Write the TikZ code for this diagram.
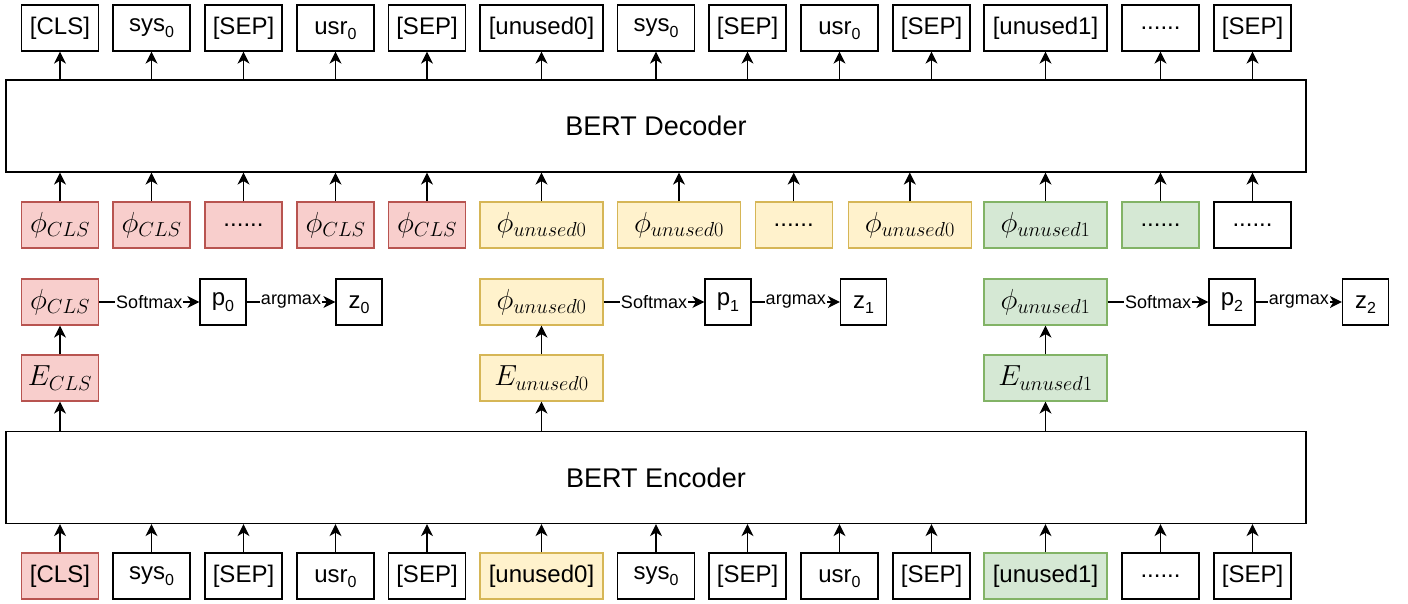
\RequirePackage{fix-cm}
\documentclass[tikz,border=0pt]{standalone}
\usepackage{fontspec}
\setmainfont{Liberation Sans}
\usetikzlibrary{arrows.meta}
\definecolor{redf}{HTML}{F8CECC}
\definecolor{redd}{HTML}{B85450}
\definecolor{yelf}{HTML}{FFF2CC}
\definecolor{yeld}{HTML}{D6B656}
\definecolor{grnf}{HTML}{D5E8D4}
\definecolor{grnd}{HTML}{82B366}
\newcommand{\lowsub}[1]{\raisebox{-5.5pt}[0pt][0pt]{\fontsize{16}{18}\selectfont #1}}
\begin{document}
\begin{tikzpicture}[x=1pt,y=-1pt,
  box/.style={draw=black, line width=1.2pt, fill=white, minimum height=46pt, minimum width=77pt, inner sep=0pt, font=\fontsize{24}{28}\selectfont},
  wide/.style={minimum width=123pt},
  sq/.style={minimum width=46pt},
  mth/.style={font=\fontsize{29}{34}\selectfont},
  redb/.style={fill=redf, draw=redd},
  yelb/.style={fill=yelf, draw=yeld},
  grnb/.style={fill=grnf, draw=grnd},
  big/.style={draw=black, line width=1.2pt, fill=white, minimum width=1300pt, minimum height=92pt, inner sep=0pt, font=\fontsize{27}{32}\selectfont},
  arr/.style={-{Stealth[length=12pt,width=12pt,inset=3.5pt]}, line width=1.4pt},
  lbl/.style={fill=white, inner sep=1pt, font=\fontsize{18}{21}\selectfont}
]
\useasboundingbox (0,0) rectangle (1408,603);

% decoder and encoder
\node[big] (dec) at (656,126) {BERT Decoder};
\node[big] (enc) at (656,477.5) {BERT Encoder};

% top output row
\node[box] (t1) at (60,28) {[CLS]};
\node[box] (t2) at (151.5,28) {sys\lowsub{0}};
\node[box] (t3) at (243.5,28) {[SEP]};
\node[box] (t4) at (335.5,28) {usr\lowsub{0}};
\node[box] (t5) at (427,28) {[SEP]};
\node[box,wide] (t6) at (541.5,28) {[unused0]};
\node[box] (t7) at (656,28) {sys\lowsub{0}};
\node[box] (t8) at (747.5,28) {[SEP]};
\node[box] (t9) at (839.5,28) {usr\lowsub{0}};
\node[box] (t10) at (931.5,28) {[SEP]};
\node[box,wide] (t11) at (1045.5,28) {[unused1]};
\node[box] (t12) at (1160.5,28) {......};
\node[box] (t13) at (1252.5,28) {[SEP]};

\foreach \i in {1,...,13} {
  \draw[arr] (t\i.south |- dec.north) -- (t\i.south);
}

% phi row (decoder inputs)
\node[box,redb,mth] (f1) at (60,225) {$\phi_{CLS}$};
\node[box,redb,mth] (f2) at (151.5,225) {$\phi_{CLS}$};
\node[box,redb] (f3) at (243.5,225) {......};
\node[box,redb,mth] (f4) at (335.5,225) {$\phi_{CLS}$};
\node[box,redb,mth] (f5) at (427,225) {$\phi_{CLS}$};
\node[box,yelb,mth,wide] (f6) at (541.5,225) {$\phi_{unused0}$};
\node[box,yelb,mth,wide] (f7) at (679,225) {$\phi_{unused0}$};
\node[box,yelb] (f8) at (793.7,225) {......};
\node[box,yelb,mth,wide] (f9) at (909.8,225) {$\phi_{unused0}$};
\node[box,grnb,mth,wide] (f10) at (1045.5,225) {$\phi_{unused1}$};
\node[box,grnb] (f11) at (1160.5,225) {......};
\node[box] (f12) at (1252.5,225) {......};

\foreach \i in {1,...,12} {
  \draw[arr] (f\i.north) -- (f\i.north |- dec.south);
}

% middle row
\node[box,redb,mth] (c0) at (60,302) {$\phi_{CLS}$};
\node[box,sq] (p0) at (223,302) {p\lowsub{0}};
\node[box,sq] (z0) at (359,302) {z\lowsub{0}};
\node[box,redb,mth] (e0) at (60,378) {$E_{CLS}$};

\node[box,yelb,mth,wide] (c1) at (541.5,302) {$\phi_{unused0}$};
\node[box,sq] (p1) at (728,302) {p\lowsub{1}};
\node[box,sq] (z1) at (863.5,302) {z\lowsub{1}};
\node[box,yelb,mth,wide] (e1) at (541.5,378) {$E_{unused0}$};

\node[box,grnb,mth,wide] (c2) at (1045.5,302) {$\phi_{unused1}$};
\node[box,sq] (p2) at (1232,302) {p\lowsub{2}};
\node[box,sq] (z2) at (1365.5,302) {z\lowsub{2}};
\node[box,grnb,mth,wide] (e2) at (1045.5,378) {$E_{unused1}$};

\foreach \i in {0,1,2} {
  \draw[arr] (c\i) -- node[lbl] {Softmax} (p\i);
  \draw[arr] (p\i) -- node[lbl] {argmax} (z\i);
  \draw[arr] (e\i) -- (c\i);
  \draw[arr] (e\i.south |- enc.north) -- (e\i);
}

% bottom input row
\node[box,redb] (b1) at (60,576) {[CLS]};
\node[box] (b2) at (151.5,576) {sys\lowsub{0}};
\node[box] (b3) at (243.5,576) {[SEP]};
\node[box] (b4) at (335.5,576) {usr\lowsub{0}};
\node[box] (b5) at (427,576) {[SEP]};
\node[box,yelb,wide] (b6) at (541.5,576) {[unused0]};
\node[box] (b7) at (656,576) {sys\lowsub{0}};
\node[box] (b8) at (747.5,576) {[SEP]};
\node[box] (b9) at (839.5,576) {usr\lowsub{0}};
\node[box] (b10) at (931.5,576) {[SEP]};
\node[box,grnb,wide] (b11) at (1045.5,576) {[unused1]};
\node[box] (b12) at (1160.5,576) {......};
\node[box] (b13) at (1252.5,576) {[SEP]};

\foreach \i in {1,...,13} {
  \draw[arr] (b\i.north) -- (b\i.north |- enc.south);
}
\end{tikzpicture}
\end{document}
